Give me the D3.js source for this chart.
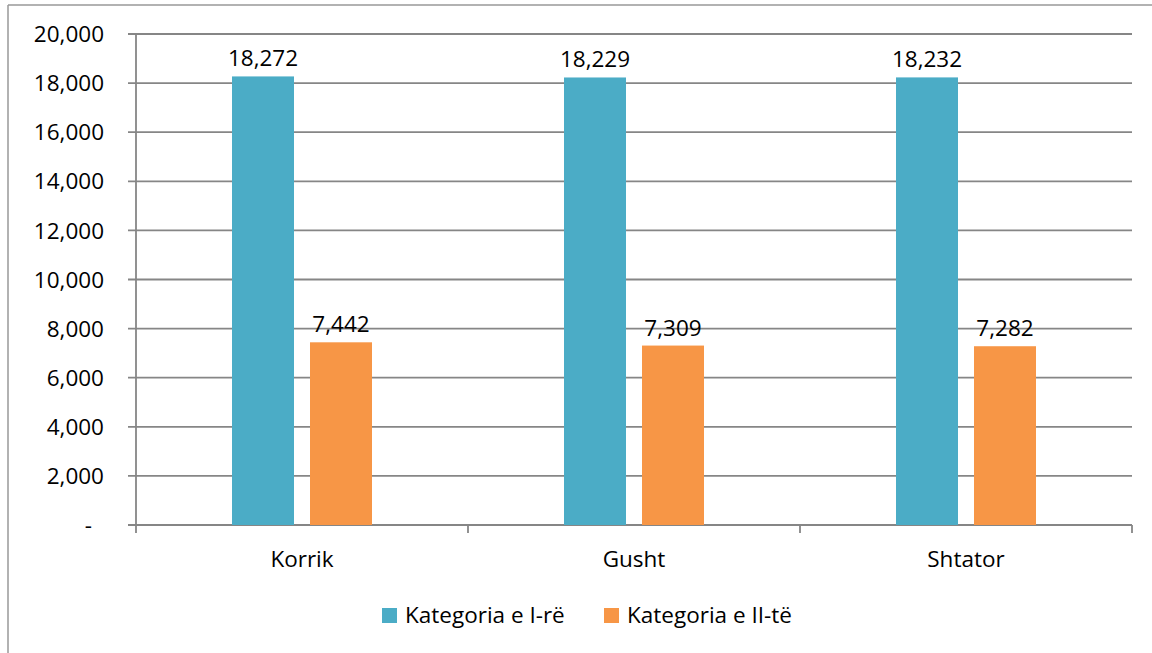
<!DOCTYPE html>
<html><head><meta charset="utf-8">
<script src="https://cdn.jsdelivr.net/npm/d3@7"></script>
<style>body{margin:0;background:#fff}svg{display:block}text{font-family:"Open Sans",sans-serif;fill:#000}</style>
</head><body><svg id="c" width="1152" height="653"></svg>
<script>
const categories = ["Korrik", "Gusht", "Shtator"];
const seriesNames = ["Kategoria e I-rë", "Kategoria e II-të"];
const series1 = [18272, 18229, 18232];
const series2 = [7442, 7309, 7282];
const yTicks = [0, 2000, 4000, 6000, 8000, 10000, 12000, 14000, 16000, 18000, 20000];
const colors = ["#4BACC6", "#F79646"];

const svg = d3.select("#c");
const L = 136, R = 1132, T = 34, B = 525;
const FS = 22.5;
const x = d3.scaleBand().domain(categories).range([L, R]);
const y = d3.scaleLinear().domain([0, 20000]).range([B, T]);
const fmt = d3.format(",");

// outer frame
svg.append("line").attr("x1", 8).attr("x2", 1152).attr("y1", 5).attr("y2", 5).attr("stroke", "#999").attr("stroke-width", 1.5);
svg.append("line").attr("x1", 8).attr("x2", 8).attr("y1", 5).attr("y2", 653).attr("stroke", "#999").attr("stroke-width", 1.5);

// gridlines
svg.append("g").selectAll("line").data(yTicks).join("line")
  .attr("x1", L - 8).attr("x2", R).attr("y1", d => y(d)).attr("y2", d => y(d))
  .attr("stroke", "#868686").attr("stroke-width", 1.8);

// y labels
svg.append("g").selectAll("text").data(yTicks).join("text")
  .attr("x", d => d === 0 ? 92 : 104).attr("y", d => y(d)).attr("dy", "0.36em").attr("text-anchor", "end")
  .attr("font-size", FS).text(d => d === 0 ? "-" : fmt(d));

// y axis line
svg.append("line").attr("x1", L).attr("x2", L).attr("y1", T).attr("y2", B + 8).attr("stroke", "#868686").attr("stroke-width", 1.8);

// category ticks
const bounds = categories.map(c => x(c)).concat([R]);
svg.append("g").selectAll("line").data(bounds.slice(1)).join("line")
  .attr("x1", d => d).attr("x2", d => d).attr("y1", B).attr("y2", B + 8)
  .attr("stroke", "#868686").attr("stroke-width", 1.8);

// bars
const bw = 62, gap = 16;
const sets = [series1, series2];
sets.forEach((vals, si) => {
  const g = svg.append("g");
  const xo = c => x(c) + x.bandwidth() / 2 + (si === 0 ? -gap / 2 - bw : gap / 2);
  g.selectAll("rect").data(categories).join("rect")
    .attr("x", c => xo(c)).attr("width", bw)
    .attr("y", (c, i) => y(vals[i])).attr("height", (c, i) => B - y(vals[i]))
    .attr("fill", colors[si]);
  g.selectAll("text").data(categories).join("text")
    .attr("x", c => xo(c) + bw / 2).attr("y", (c, i) => y(vals[i]) - 10)
    .attr("text-anchor", "middle").attr("font-size", FS).text((c, i) => fmt(vals[i]));
});

// category labels
svg.append("g").selectAll("text").data(categories).join("text")
  .attr("x", c => x(c) + x.bandwidth() / 2).attr("y", 567).attr("text-anchor", "middle")
  .attr("font-size", FS).text(c => c);

// legend
const leg = [{x: 382}, {x: 604}];
seriesNames.forEach((n, i) => {
  svg.append("rect").attr("x", leg[i].x).attr("y", 608).attr("width", 15).attr("height", 15).attr("fill", colors[i]);
  svg.append("text").attr("x", leg[i].x + 23).attr("y", 623).attr("font-size", FS).text(n);
});
</script></body></html>
